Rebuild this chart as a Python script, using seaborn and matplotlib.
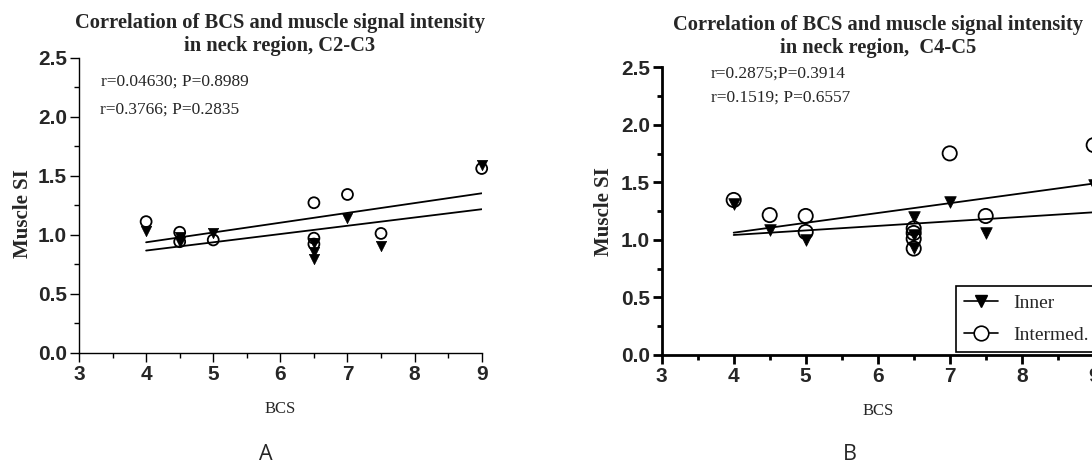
import matplotlib
matplotlib.use("Agg")
import matplotlib.pyplot as plt
from matplotlib.ticker import MultipleLocator
from matplotlib.lines import Line2D
import seaborn as sns
import pandas as pd

# ---------------- data ----------------
# Panel A (C2-C3)
a_inner_bcs = [4, 4.5, 4.5, 5, 6.5, 6.5, 6.5, 7, 7.5, 9]
a_inner_si = [1.03, 0.98, 0.94, 1.01, 0.93, 0.85, 0.79, 1.14, 0.90, 1.59]
a_inter_bcs = [4, 4.5, 4.5, 5, 6.5, 6.5, 6.5, 7, 7.5, 9]
a_inter_si = [1.11, 1.02, 0.94, 0.955, 1.27, 0.97, 0.92, 1.34, 1.01, 1.56]
a_fit_x = [4, 9]
a_fit_inner = [0.865, 1.215]
a_fit_inter = [0.935, 1.35]
a_stats = ["r=0.04630; P=0.8989", "r=0.3766; P=0.2835"]
a_title = "Correlation of BCS and muscle signal intensity\nin neck region, C2-C3"

# Panel B (C4-C5)
b_inner_bcs = [4, 4.5, 5, 6.5, 6.5, 6.5, 7, 7.5, 9]
b_inner_si = [1.31, 1.09, 1.00, 1.20, 1.045, 0.93, 1.33, 1.057, 1.477]
b_inter_bcs = [4, 4.5, 5, 5, 6.5, 6.5, 6.5, 6.5, 7, 7.5, 9]
b_inter_si = [1.347, 1.216, 1.208, 1.069, 1.10, 1.06, 1.01, 0.925, 1.752, 1.208, 1.824]
b_fit_x = [4, 9]
b_fit_inner = [1.063, 1.49]
b_fit_inter = [1.043, 1.24]
b_stats = ["r=0.2875;P=0.3914", "r=0.1519; P=0.6557"]
b_title = "Correlation of BCS and muscle signal intensity\nin neck region,  C4-C5"

series_labels = ["Inner", "Intermed."]
x_label = "BCS"
y_label = "Muscle SI"
panel_letters = ["A", "B"]

# ---------------- style ----------------
sns.set_style("ticks")
plt.rcParams["font.family"] = ["Liberation Serif", "DejaVu Serif"]

SERIF = "Liberation Serif"
SANS = "Liberation Sans"

W, H = 1092, 470
fig = plt.figure(figsize=(W / 100, H / 100), dpi=100)


def px_axes(left, top, right, bottom):
    return fig.add_axes([left / W, 1 - bottom / H, (right - left) / W, (bottom - top) / H])


def draw_panel(ax, inner_x, inner_y, inter_x, inter_y, fit_x, fit_inner, fit_inter,
               spine_w, tri_size, circ_size, line_w):
    d_in = pd.DataFrame({"BCS": inner_x, "SI": inner_y})
    d_it = pd.DataFrame({"BCS": inter_x, "SI": inter_y})
    d_fit = pd.DataFrame({"BCS": fit_x, "inner": fit_inner, "inter": fit_inter})
    sns.lineplot(data=d_fit, x="BCS", y="inner", ax=ax, color="black", lw=line_w)
    sns.lineplot(data=d_fit, x="BCS", y="inter", ax=ax, color="black", lw=line_w)
    sns.scatterplot(data=d_in, x="BCS", y="SI", ax=ax, marker="v", s=tri_size,
                    color="black", edgecolor="black", linewidth=0.5, clip_on=False, zorder=3)
    sns.scatterplot(data=d_it, x="BCS", y="SI", ax=ax, marker="o", s=circ_size,
                    facecolor="none", edgecolor="black", linewidth=1.3, clip_on=False, zorder=4)
    ax.set_xlim(3, 9)
    ax.set_ylim(0, 2.5)
    ax.xaxis.set_major_locator(MultipleLocator(1))
    ax.xaxis.set_minor_locator(MultipleLocator(0.5))
    ax.yaxis.set_major_locator(MultipleLocator(0.5))
    ax.yaxis.set_minor_locator(MultipleLocator(0.25))
    ax.set_yticks([0, 0.5, 1.0, 1.5, 2.0, 2.5])
    ax.set_yticklabels(["0.0", "0.5", "1.0", "1.5", "2.0", "2.5"])
    sns.despine(ax=ax)
    for s in ["left", "bottom"]:
        ax.spines[s].set_linewidth(spine_w)
        ax.spines[s].set_color("black")
    ax.tick_params(which="major", direction="out", length=6.3, width=spine_w, color="black",
                   labelsize=15, pad=2.3)
    ax.tick_params(which="minor", direction="out", length=3.8, width=spine_w, color="black")
    for lbl in ax.get_xticklabels() + ax.get_yticklabels():
        lbl.set_fontfamily(SANS)
        lbl.set_fontweight("bold")
    ax.set_xlabel(x_label, fontsize=12, fontfamily=SERIF)
    ax.set_ylabel(y_label, fontsize=15, fontfamily=SERIF, fontweight="bold")
    ax.xaxis.label.set_va("top")
    ax.grid(False)


# Panel A
axA = px_axes(79, 57.5, 481.7, 352.7)
draw_panel(axA, a_inner_bcs, a_inner_si, a_inter_bcs, a_inter_si,
           a_fit_x, a_fit_inner, a_fit_inter, 1.0, 55, 62, 1.3)
axA.xaxis.set_label_coords(0.5, -0.165)
axA.yaxis.set_label_coords(-0.114, 0.47)
fig.text(280 / W, 1 - 34.2 / H, a_title, ha="center", va="center", fontsize=14.8,
         fontfamily=SERIF, fontweight="bold", linespacing=1.2)
axA.text((101 - 79) / 402.7, (352.7 - 81.7) / 295.2, a_stats[0], transform=axA.transAxes,
         ha="left", va="center", fontsize=12.5, fontfamily=SERIF)
axA.text((100 - 79) / 402.7, (352.7 - 109.3) / 295.2, a_stats[1], transform=axA.transAxes,
         ha="left", va="center", fontsize=12.5, fontfamily=SERIF)

# Panel B
axB = px_axes(661.7, 67.3, 1093.7, 355)
draw_panel(axB, b_inner_bcs, b_inner_si, b_inter_bcs, b_inter_si,
           b_fit_x, b_fit_inner, b_fit_inter, 2.0, 70, 105, 1.3)
axB.xaxis.set_label_coords(0.5, -0.167)
axB.yaxis.set_label_coords(-0.111, 0.5)
fig.text(878 / W, 1 - 36.1 / H, b_title, ha="center", va="center", fontsize=14.8,
         fontfamily=SERIF, fontweight="bold", linespacing=1.2)
axB.text((710.7 - 661.7) / 432, (355 - 73.3) / 287.7, b_stats[0], transform=axB.transAxes,
         ha="left", va="center", fontsize=12.5, fontfamily=SERIF)
axB.text((710.7 - 661.7) / 432, (355 - 97.7) / 287.7, b_stats[1], transform=axB.transAxes,
         ha="left", va="center", fontsize=12.5, fontfamily=SERIF)

handles = [
    Line2D([0], [0], color="black", lw=1.2, marker="v", markersize=8,
           markerfacecolor="black", markeredgecolor="black"),
    Line2D([0], [0], color="black", lw=1.2, marker="o", markersize=10.5,
           markerfacecolor="white", markeredgecolor="black", markeredgewidth=1.2),
]
leg = axB.legend(handles, series_labels, loc="lower left",
                 bbox_to_anchor=((956 - 661.7) / 432, (355 - 351.7) / 287.7),
                 borderaxespad=0, frameon=True, fancybox=False, framealpha=1,
                 edgecolor="black", prop={"family": SERIF, "size": 14},
                 handlelength=1.75, handletextpad=0.8, borderpad=0.4, labelspacing=0.75)
leg.get_frame().set_linewidth(1.2)

# Panel letters
fig.text(266 / W, 1 - 455 / H, panel_letters[0], ha="center", va="center",
         fontsize=15.5, fontfamily="Open Sans")
fig.text(850 / W, 1 - 455 / H, panel_letters[1], ha="center", va="center",
         fontsize=15.5, fontfamily="Open Sans")

fig.savefig("out.png", dpi=100)
